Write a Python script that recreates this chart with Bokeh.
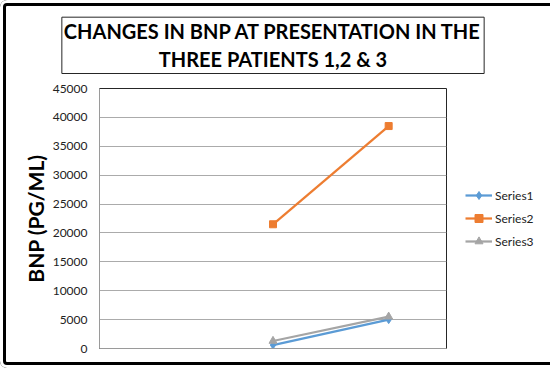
import numpy as np
from bokeh.plotting import figure
from bokeh.models import FixedTicker, Legend, LegendItem, Range1d, Title
from bokeh.embed import file_html
from bokeh.resources import INLINE

# ---- data ----
categories = [1, 2, 3]
series_names = ["Series1", "Series2", "Series3"]
series1 = [np.nan, 600, 5000]
series2 = [np.nan, 21500, 38500]
series3 = [np.nan, 1300, 5500]
y_ticks = [0, 5000, 10000, 15000, 20000, 25000, 30000, 35000, 40000, 45000]
title_text = "CHANGES IN BNP AT PRESENTATION IN THE\nTHREE PATIENTS 1,2 & 3"
y_label = "BNP (PG/ML)"

colors = ["#5B9BD5", "#ED7D31", "#A5A5A5"]
markers = ["diamond", "square", "triangle"]
msizes = [8, 7, 8]

p = figure(frame_width=347, frame_height=260, output_backend="svg",
           toolbar_location=None, title=None,
           x_range=Range1d(0.5, 3.5), y_range=Range1d(0, 45000),
           min_border_left=99, min_border_right=104, min_border_top=88,
           min_border_bottom=20)
p.styles = {"background-color": "white",
            "box-shadow": "inset 0 0 0 3px white, inset 0 0 0 6px black",
            "border-radius": "7px"}
p.background_fill_color = "white"
p.border_fill_color = None
p.border_fill_alpha = 0
p.outline_line_color = "#262626"
p.outline_line_width = 1

# x axis: line only
p.xaxis.ticker = FixedTicker(ticks=[])
p.xaxis.major_tick_out = 0
p.xaxis.major_tick_in = 0
p.xaxis.minor_tick_out = 0
p.xaxis.axis_line_color = "#9a9a9a"
p.xgrid.visible = False

# y axis
p.yaxis.ticker = FixedTicker(ticks=y_ticks)
p.yaxis.major_tick_out = 0
p.yaxis.major_tick_in = 0
p.yaxis.minor_tick_out = 0
p.yaxis.minor_tick_in = 0
p.yaxis.axis_line_color = "#9a9a9a"
p.yaxis.major_label_standoff = 12
p.yaxis.major_label_text_font = "Lato"
p.yaxis.major_label_text_font_size = "12px"
p.yaxis.major_label_text_color = "#222222"
p.yaxis.axis_label = y_label
p.yaxis.axis_label_text_font = "Lato"
p.yaxis.axis_label_text_font_size = "21px"
p.yaxis.axis_label_text_font_style = "bold"
p.yaxis.axis_label_text_color = "black"
p.yaxis.axis_label_standoff = 2
p.ygrid.grid_line_color = "#ababab"
p.ygrid.grid_line_width = 1

items = []
for name, vals, c, m, s in zip(series_names, [series1, series2, series3], colors, markers, msizes):
    lr = p.line(categories, vals, line_color=c, line_width=2.25)
    sr = p.scatter(categories, vals, marker=m, size=s, fill_color=c, line_color=c)
    items.append(LegendItem(label=name, renderers=[lr, sr]))

legend = Legend(items=items, location=(19, 97), padding=0, margin=0,
                border_line_color=None, background_fill_alpha=0,
                glyph_width=27, glyph_height=20, label_height=20, spacing=3,
                label_standoff=3, label_text_font="Lato", label_text_font_size="12px",
                label_text_color="#222222")
p.add_layout(legend, "right")

title = Title(text=title_text, align="center", text_font="Lato",
              text_font_size="20px", text_font_style="bold", text_color="black",
              text_line_height=1.18, border_line_color="#262626",
              border_line_width=1, padding=2, standoff=30)
if "text_align" in Title.properties():
    title.text_align = "center"
p.add_layout(title, "above")

open("out.html", "w").write(file_html(p, INLINE))
